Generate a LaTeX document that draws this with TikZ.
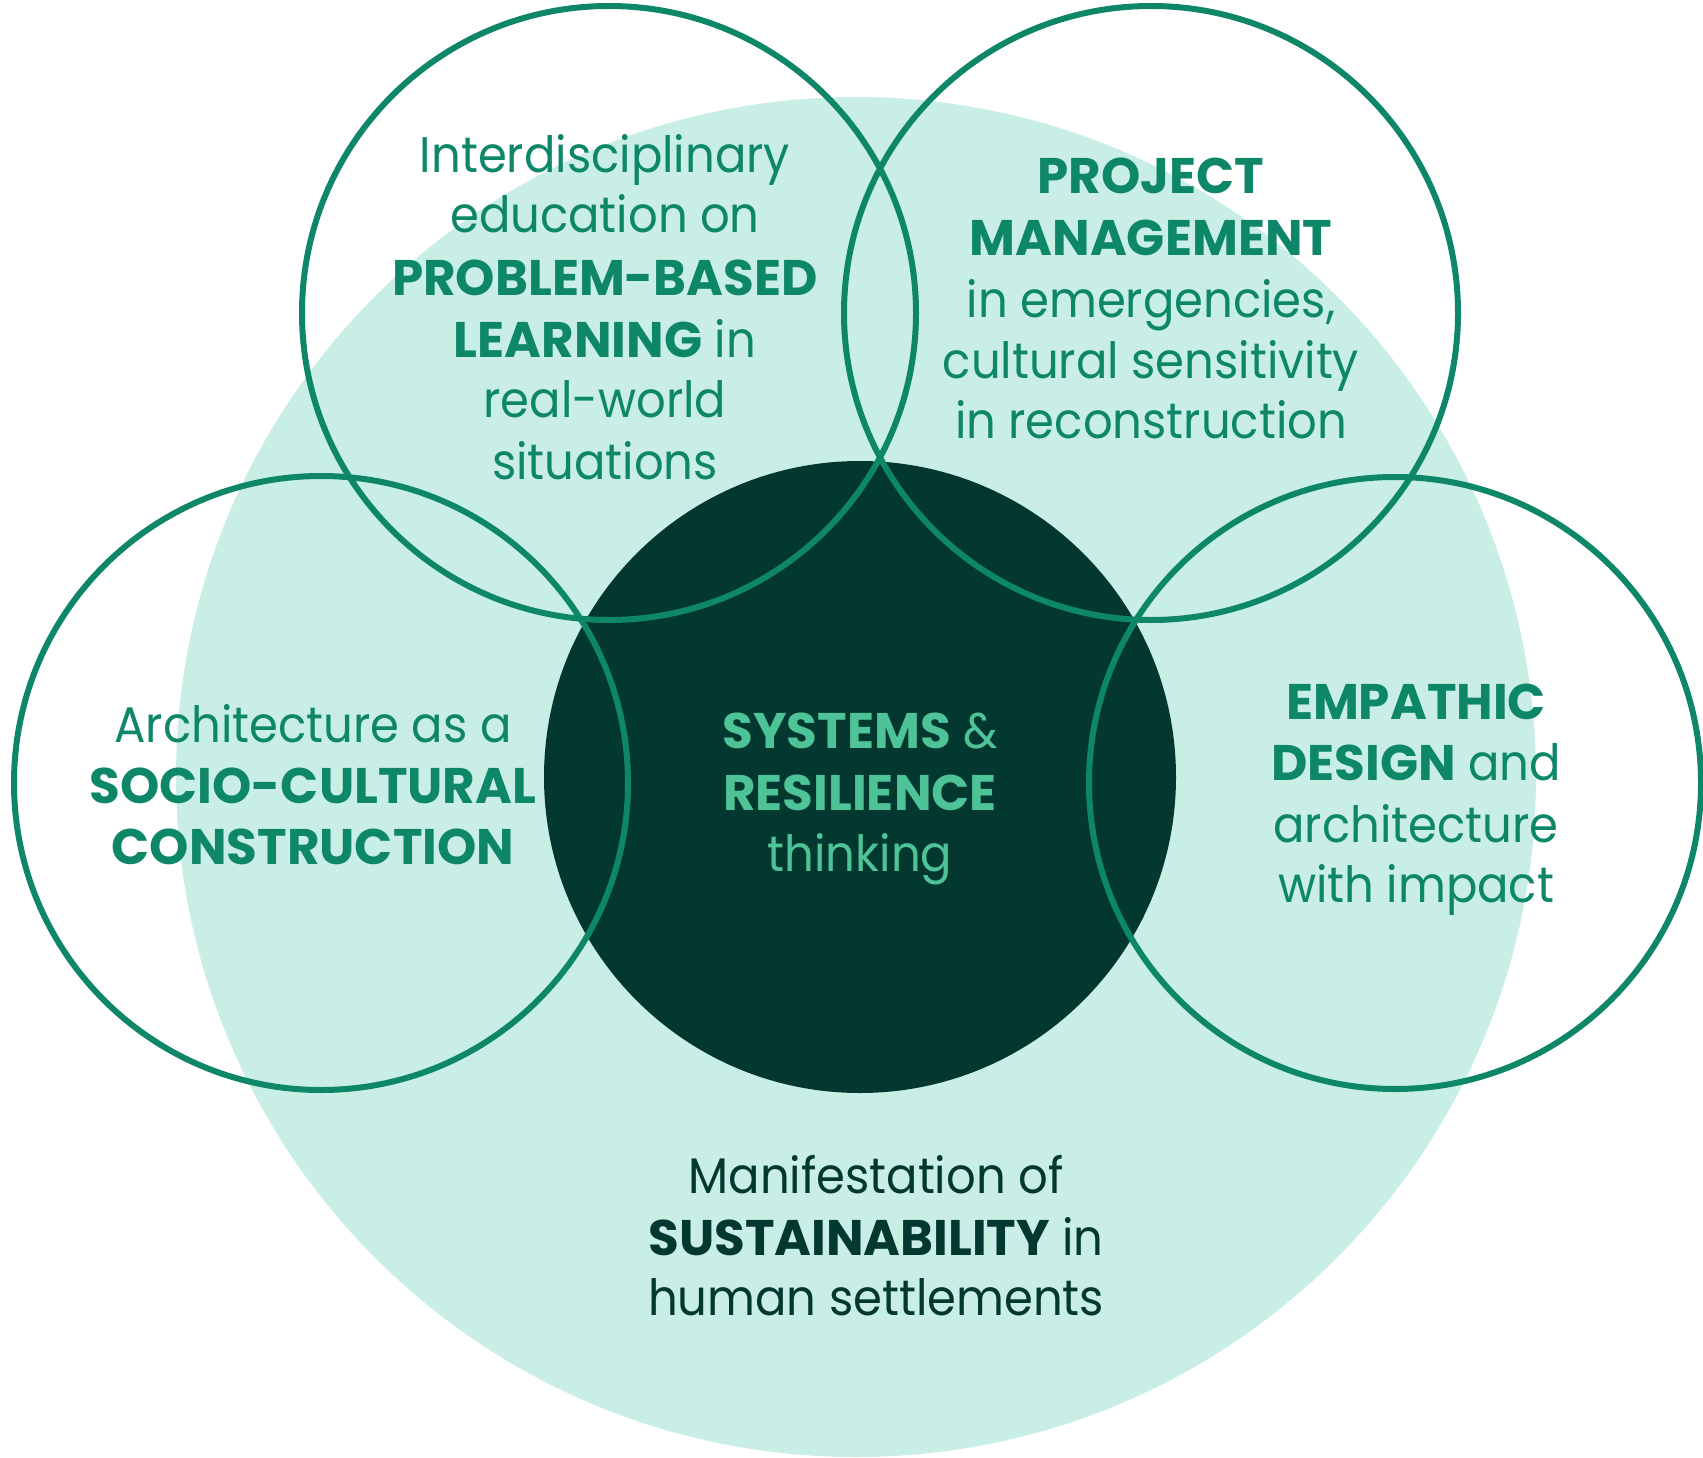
\documentclass[tikz,border=0pt]{standalone}
\usepackage{fontspec}
\setmainfont{Poppins}[FakeStretch=0.93,BoldFeatures={FakeStretch=1.0}]
\definecolor{mint}{HTML}{C9EEE6}
\definecolor{deep}{HTML}{033830}
\definecolor{teal}{HTML}{0E8769}
\definecolor{glow}{HTML}{4DC397}
\begin{document}
\begin{tikzpicture}[x=1pt,y=-1pt,
  ring/.style={draw=teal,line width=6pt},
  txt/.style={anchor=base,inner sep=0pt,font=\fontsize{50}{61}\selectfont},
  tealtxt/.style={txt,text=teal},
  glowtxt/.style={txt,text=glow},
  deeptxt/.style={txt,text=deep}]
\useasboundingbox (0,0) rectangle (1703,1458);
\fill[mint] (856,777) circle (680pt);
\fill[deep] (860,777) circle (316pt);
\draw[ring] (609,313) circle (307pt);
\draw[ring] (1151,313) circle (307pt);
\draw[ring] (321,783) circle (307pt);
\draw[ring] (1395,783) circle (306pt);
% top-left
\node[tealtxt] (a1) at (605,173) {Interdisciplinary};
\node[tealtxt] (a2) at (605,233) {education on};
\node[tealtxt] (a3) at (605,295) {\textbf{PROBLEM-BASED}};
\node[tealtxt] (a4) at (605,357) {\textbf{LEARNING} in};
\node[tealtxt] (a5) at (605,417) {real-world};
\node[tealtxt] (a6) at (605,479) {situations};
% top-right
\node[tealtxt] (b1) at (1151,194) {\textbf{PROJECT}};
\node[tealtxt] (b2) at (1151,255) {\textbf{MANAGEMENT}};
\node[tealtxt] (b3) at (1151,317) {in emergencies,};
\node[tealtxt] (b4) at (1151,378) {cultural sensitivity};
\node[tealtxt] (b5) at (1151,438) {in reconstruction};
% left
\node[tealtxt] (c1) at (313,742) {Architecture as a};
\node[tealtxt] (c2) at (313,803) {\textbf{SOCIO-CULTURAL}};
\node[tealtxt] (c3) at (313,864) {\textbf{CONSTRUCTION}};
% center
\node[glowtxt] (d1) at (860,748) {\textbf{SYSTEMS} \&};
\node[glowtxt] (d2) at (860,810) {\textbf{RESILIENCE}};
\node[glowtxt] (d3) at (860,871) {thinking};
% right
\node[tealtxt] (e1) at (1416,719) {\textbf{EMPATHIC}};
\node[tealtxt] (e2) at (1416,780) {\textbf{DESIGN} and};
\node[tealtxt] (e3) at (1416,842) {architecture};
\node[tealtxt] (e4) at (1416,902) {with impact};
% bottom
\node[deeptxt] (f1) at (876,1193) {Manifestation of};
\node[deeptxt] (f2) at (876,1255) {\textbf{SUSTAINABILITY} in};
\node[deeptxt] (f3) at (876,1315) {human settlements};
\end{tikzpicture}
\end{document}
